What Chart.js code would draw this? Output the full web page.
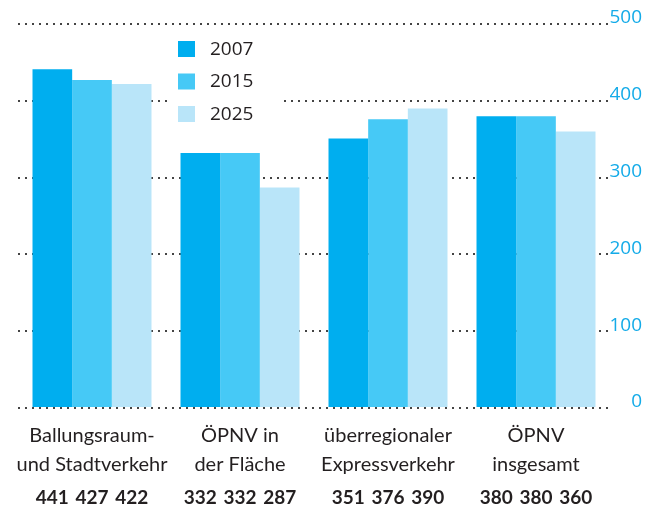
<!DOCTYPE html>
<html><head><meta charset="utf-8">
<script src="https://cdn.jsdelivr.net/npm/chart.js@4.4.1/dist/chart.umd.min.js"></script>
<style>html,body{margin:0;padding:0;background:#fff}#wrap{width:655px;height:532px;position:relative}canvas{display:block}</style>
</head><body><div id="wrap"><canvas id="c" width="655" height="532"></canvas></div>
<script>
const categories = [['Ballungsraum-','und Stadtverkehr'],['ÖPNV in','der Fläche'],['überregionaler','Expressverkehr'],['ÖPNV','insgesamt']];
const seriesNames = ['2007','2015','2025'];
const values2007 = [441,332,351,380];
const values2015 = [427,332,376,380];
const values2025 = [422,287,390,360];
const yTickValues = [0,100,200,300,400,500];

const seriesColors = ['#00AEEF','#46C9F6','#B9E5F9'];

const legendPlugin = {
  id:'insideLegend',
  beforeDatasetsDraw(chart){
    const ctx = chart.ctx, ca = chart.chartArea;
    const x0 = ca.left + 160, y0 = 41;
    ctx.save();
    ctx.fillStyle = '#fff';
    ctx.fillRect(x0-6, y0-8, 108, 96);
    chart.data.datasets.forEach((ds,i)=>{
      const y = y0 + i*32.5;
      ctx.fillStyle = ds.backgroundColor;
      ctx.fillRect(x0, y, 17, 16);
      ctx.fillStyle = '#231F20';
      ctx.font = '19px "Open Sans"';
      ctx.textBaseline = 'middle';
      ctx.textAlign = 'left';
      ctx.fillText(ds.label, x0+32, y+8.5);
    });
    ctx.restore();
  }
};

const valuesPlugin = {
  id:'valueRow',
  afterDraw(chart){
    const ctx = chart.ctx, ca = chart.chartArea;
    ctx.save();
    ctx.fillStyle = '#231F20';
    ctx.font = 'bold 19px Lato';
    ctx.textAlign = 'center';
    ctx.textBaseline = 'middle';
    chart.data.datasets.forEach((ds,i)=>{
      chart.getDatasetMeta(i).data.forEach((bar,j)=>{
        ctx.fillText(String(ds.data[j]), bar.x, ca.bottom + 90);
      });
    });
    ctx.restore();
  }
};

new Chart(document.getElementById('c'), {
  type:'bar',
  data:{
    labels: categories,
    datasets:[
      {label:seriesNames[0], data:values2007, backgroundColor:seriesColors[0]},
      {label:seriesNames[1], data:values2015, backgroundColor:seriesColors[1]},
      {label:seriesNames[2], data:values2025, backgroundColor:seriesColors[2]}
    ]
  },
  options:{
    responsive:false, animation:false, devicePixelRatio:1,
    datasets:{bar:{categoryPercentage:0.804, barPercentage:1, borderWidth:0}},
    layout:{padding:{left:18, right:13, top:24, bottom:0}},
    plugins:{legend:{display:false}, tooltip:{enabled:false}},
    scales:{
      x:{
        grid:{display:false}, border:{display:false},
        ticks:{color:'#231F20', font:{family:'Lato', size:20, lineHeight:1.45}, padding:5, maxRotation:0, autoSkip:false},
        afterFit(s){ s.height = 124; }
      },
      y:{
        position:'right', min:0, max:500,
        afterBuildTicks(s){ s.ticks = yTickValues.map(v=>({value:v})); },
        grid:{color:'#444', lineWidth:2, drawTicks:false},
        border:{display:false, dash:[2,5]},
        ticks:{color:'#14ABE8', font:{family:'Open Sans', size:19}, padding:0, crossAlign:'far', labelOffset:-6},
        afterFit(s){ s.width = 32; }
      }
    }
  },
  plugins:[legendPlugin, valuesPlugin]
});
</script></body></html>
